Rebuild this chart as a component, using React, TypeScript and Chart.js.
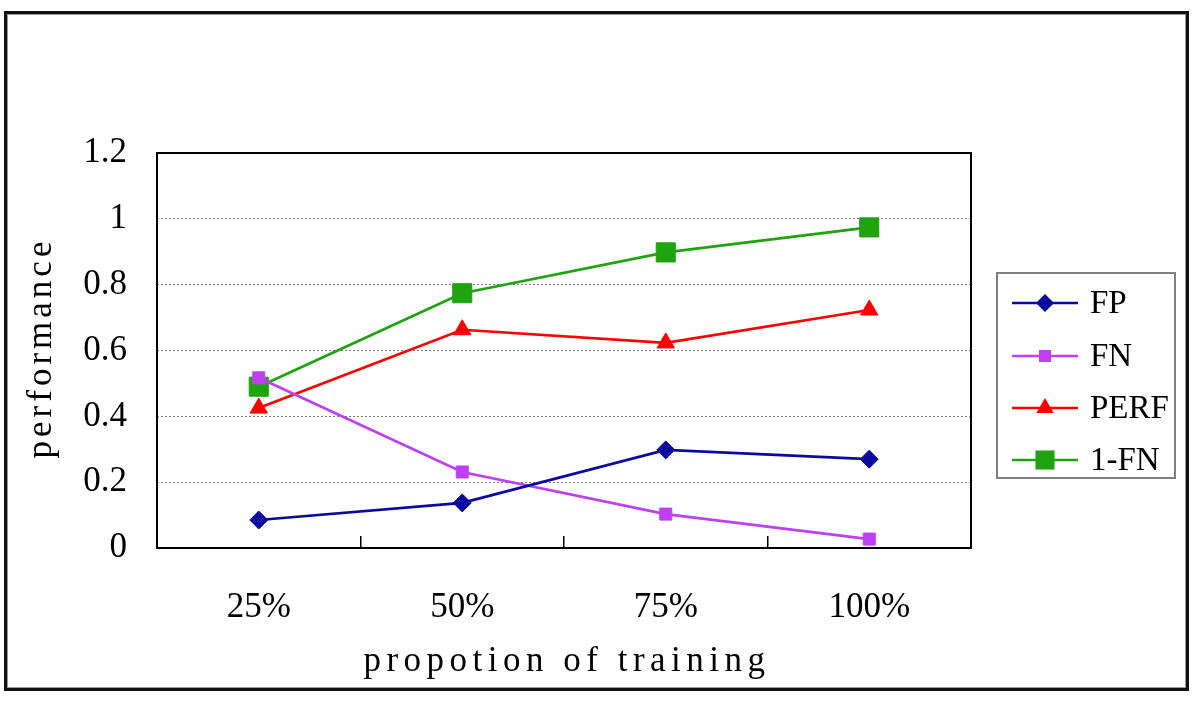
import React, { useEffect, useRef } from 'react';
import { Chart, registerables } from 'chart.js';

Chart.register(...registerables);

const categories = ['25%', '50%', '75%', '100%'];
const fpValues = [0.085, 0.137, 0.298, 0.27];
const fnValues = [0.517, 0.231, 0.103, 0.027];
const perfValues = [0.425, 0.663, 0.623, 0.723];
const oneMinusFnValues = [0.49, 0.774, 0.898, 0.974];

const xTitle = 'propotion of training';
const yTitle = 'performance';

const FONT = '"Liberation Serif", "Times New Roman", serif';

function drawMarker(ctx: CanvasRenderingContext2D, style: string, x: number, y: number, r: number, color: string) {
  ctx.save();
  ctx.fillStyle = color;
  ctx.beginPath();
  if (style === 'rectRot') {
    ctx.moveTo(x, y - r);
    ctx.lineTo(x + r, y);
    ctx.lineTo(x, y + r);
    ctx.lineTo(x - r, y);
    ctx.closePath();
  } else if (style === 'triangle') {
    const h = r * Math.sqrt(3) / 2;
    ctx.moveTo(x, y - r);
    ctx.lineTo(x + h, y + r / 2);
    ctx.lineTo(x - h, y + r / 2);
    ctx.closePath();
  } else {
    const s = r * Math.SQRT1_2;
    ctx.rect(x - s, y - s, 2 * s, 2 * s);
  }
  ctx.fill();
  ctx.restore();
}

const framePlugin = {
  id: 'framePlugin',
  beforeDraw(chart: any) {
    const ctx = chart.ctx as CanvasRenderingContext2D;
    ctx.save();
    ctx.fillStyle = '#ffffff';
    ctx.fillRect(0, 0, chart.width, chart.height);
    ctx.strokeStyle = '#111111';
    ctx.lineWidth = 3;
    ctx.strokeRect(5.5, 12.5, 1182, 677);
    ctx.strokeStyle = '#9a9a9a';
    ctx.lineWidth = 1;
    ctx.strokeRect(7.5, 14.5, 1178, 673);
    ctx.restore();
  },
  beforeDatasetsDraw(chart: any) {
    const ctx = chart.ctx as CanvasRenderingContext2D;
    const a = chart.chartArea;
    ctx.save();
    ctx.strokeStyle = '#000000';
    ctx.lineWidth = 2;
    ctx.strokeRect(a.left, a.top, a.right - a.left, a.bottom - a.top);
    ctx.restore();
  },
  afterDraw(chart: any) {
    const ctx = chart.ctx as CanvasRenderingContext2D;
    const a = chart.chartArea;
    ctx.save();
    ctx.fillStyle = '#000000';
    ctx.font = `35px ${FONT}`;
    ctx.textAlign = 'center';
    ctx.textBaseline = 'middle';
    (ctx as any).letterSpacing = '5.5px';
    ctx.fillText(xTitle, (a.left + a.right) / 2 + 3, 662);
    ctx.translate(42, 350);
    ctx.rotate(-Math.PI / 2);
    (ctx as any).letterSpacing = '4px';
    ctx.fillText(yTitle, 2, 0);
    ctx.restore();

    // legend
    ctx.save();
    ctx.strokeStyle = '#808080';
    ctx.lineWidth = 2;
    ctx.strokeRect(997, 273, 178, 205);
    const rows = [303, 356, 408, 460];
    chart.data.datasets.forEach((ds: any, i: number) => {
      const y = rows[i];
      ctx.strokeStyle = ds.borderColor;
      ctx.lineWidth = 2.5;
      ctx.beginPath();
      ctx.moveTo(1012, y);
      ctx.lineTo(1078, y);
      ctx.stroke();
      drawMarker(ctx, ds.pointStyle, 1045, y, ds.pointRadius, ds.pointBackgroundColor);
      ctx.fillStyle = '#000000';
      ctx.font = `33px ${FONT}`;
      ctx.textAlign = 'left';
      ctx.textBaseline = 'middle';
      ctx.fillText(ds.label, 1090, y + 1);
    });
    ctx.restore();
  },
};

export default function App() {
  const canvasRef = useRef<HTMLCanvasElement | null>(null);

  useEffect(() => {
    document.body.style.margin = '0';
    const canvas = canvasRef.current;
    if (!canvas) return;
    const mk = (label: string, data: number[], color: string, style: string, radius: number) => ({
      label,
      data,
      borderColor: color,
      backgroundColor: color,
      pointBackgroundColor: color,
      pointBorderColor: color,
      pointBorderWidth: 1,
      borderWidth: 2.7,
      pointStyle: style,
      pointRadius: radius,
      tension: 0,
      fill: false,
    });
    const chart = new Chart(canvas, {
      type: 'line',
      data: {
        labels: categories,
        datasets: [
          mk('FP', fpValues, '#0a0aa0', 'rectRot', 9),
          mk('FN', fnValues, '#bf3ff5', 'rect', 8.5),
          mk('PERF', perfValues, '#ff0000', 'triangle', 10),
          mk('1-FN', oneMinusFnValues, '#1fa30f', 'rect', 13.5),
        ],
      },
      plugins: [framePlugin],
      options: {
        responsive: false,
        animation: false,
        layout: { padding: { top: 153, right: 229, left: 0, bottom: 0 } },
        plugins: { legend: { display: false }, tooltip: { enabled: false } },
        scales: {
          x: {
            type: 'category',
            offset: true,
            grid: {
              offset: true,
              drawOnChartArea: false,
              drawTicks: true,
              tickLength: -12,
              color: '#000000',
              lineWidth: 1.5,
            },
            border: { display: false },
            ticks: { color: '#000000', font: { family: FONT, size: 35 }, padding: 51, maxRotation: 0 },
            afterFit: (s: any) => { s.height = 155; },
          },
          y: {
            min: 0,
            max: 1.2,
            ticks: {
              stepSize: 0.2,
              color: '#000000',
              font: { family: FONT, size: 35 },
              padding: 30,
              callback: (v: any) => String(Math.round(Number(v) * 10) / 10),
            },
            grid: { drawTicks: false, color: '#7a7a7a', lineWidth: 1 },
            border: { display: false, dash: [2, 2] },
            afterFit: (s: any) => { s.width = 157; },
          },
        },
      },
    });
    return () => chart.destroy();
  }, []);

  return (
    <div style={{ position: 'absolute', left: 0, top: 0, width: 1200, height: 703 }}>
      <canvas ref={canvasRef} width={1200} height={703} style={{ display: 'block' }} />
    </div>
  );
}
